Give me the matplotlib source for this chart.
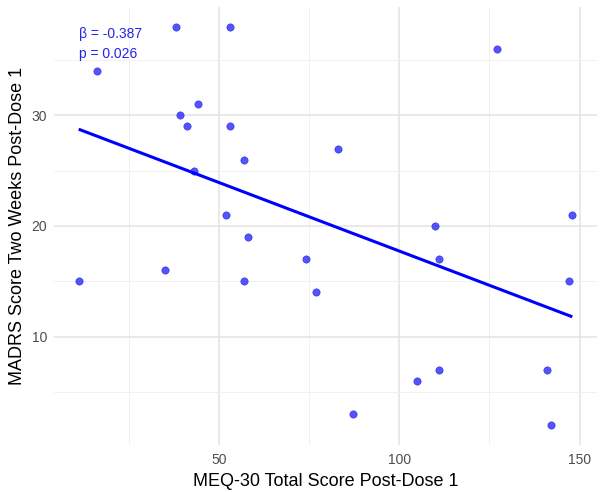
import numpy as np
import matplotlib
matplotlib.use("Agg")
import matplotlib.pyplot as plt
from matplotlib.ticker import MultipleLocator

plt.rcParams['font.family'] = ['Liberation Sans', 'DejaVu Sans']

meq30 = [11, 16, 35, 38, 39, 41, 43, 44, 52, 53, 53, 57, 57, 58,
         74, 77, 83, 87, 105, 110, 111, 111, 127, 141, 142, 147, 148]
madrs = [15, 34, 16, 38, 30, 29, 25, 31, 21, 38, 29, 26, 15, 19,
         17, 14, 27, 3, 6, 20, 17, 7, 36, 7, 2, 15, 21]
beta_text = "β = -0.387"
p_text = "p = 0.026"
x_label = "MEQ-30 Total Score Post-Dose 1"
y_label = "MADRS Score Two Weeks Post-Dose 1"

x = np.array(meq30, dtype=float)
y = np.array(madrs, dtype=float)

fig = plt.figure(figsize=(6.02, 4.92), dpi=100)
ax = fig.add_axes([54/602, 1-445/492, (597-54)/602, (445-7)/492])

ax.xaxis.set_major_locator(MultipleLocator(50))
ax.xaxis.set_minor_locator(MultipleLocator(25))
ax.yaxis.set_major_locator(MultipleLocator(10))
ax.yaxis.set_minor_locator(MultipleLocator(5))
ax.grid(which='major', color='#E3E3E3', linewidth=1.1)
ax.grid(which='minor', color='#EFEFEF', linewidth=0.6)
ax.set_axisbelow(True)
for s in ax.spines.values():
    s.set_visible(False)
ax.tick_params(which='both', length=0, labelsize=10, labelcolor='#4D4D4D')
ax.tick_params(axis='x', pad=6)
ax.tick_params(axis='y', pad=5)

ax.scatter(x, y, s=28, color='#2828FF', alpha=0.8, edgecolors='#1515CC', linewidths=0.4, zorder=3)

coef = np.polyfit(x, y, 1)
xs = np.array([x.min(), x.max()])
ax.plot(xs, np.polyval(coef, xs), color='#0000FF', linewidth=2.2, zorder=4, solid_capstyle='butt')

span_x = x.max() - x.min()
span_y = y.max() - y.min()
ax.set_xlim(x.min() - 0.05*span_x, x.max() + 0.05*span_x)
ax.set_ylim(y.min() - 0.05*span_y, y.max() + 0.05*span_y)

ax.text(x.min(), 38.0, beta_text + "\n" + p_text, color='#2222EE', fontsize=10,
        ha='left', va='top', linespacing=1.55, zorder=5)

ax.set_xlabel(x_label, fontsize=13, color='#000000', labelpad=4)
ax.set_ylabel(y_label, fontsize=13, color='#000000', labelpad=4)

fig.savefig("out.png", dpi=100, facecolor='white')
